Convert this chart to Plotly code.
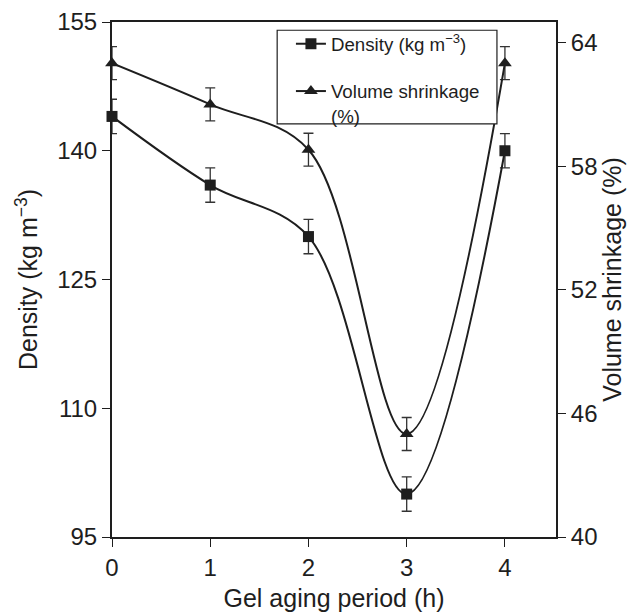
import plotly.graph_objects as go

# Data
aging_h = [0, 1, 2, 3, 4]
density = [144, 136, 130, 100, 140]
density_err = [2, 2, 2, 2, 2]
shrinkage = [63, 61, 58.8, 45, 63]
shrinkage_err = [0.8, 0.8, 0.8, 0.8, 0.8]

left_ticks = [95, 110, 125, 140, 155]
right_ticks = [40, 46, 52, 58, 64]
x_ticks = [0, 1, 2, 3, 4]

INK = "#1e1e1e"
FONT = "Liberation Sans, Arial, sans-serif"

fig = go.Figure()
fig.add_trace(go.Scatter(
    x=aging_h, y=density, name="Density (kg m<sup>−3</sup>)",
    mode="lines+markers", line=dict(color=INK, width=2, shape="spline", smoothing=1),
    marker=dict(symbol="square", size=11, color=INK),
    error_y=dict(type="data", array=density_err, color="#333", thickness=1.3, width=5),
    cliponaxis=False, legendgroup="a", yaxis="y"))
fig.add_trace(go.Scatter(
    x=aging_h, y=shrinkage, name="Volume shrinkage<br>(%)",
    mode="lines+markers", line=dict(color=INK, width=2, shape="spline", smoothing=1),
    marker=dict(symbol="triangle-up", size=12, color=INK),
    error_y=dict(type="data", array=shrinkage_err, color="#333", thickness=1.3, width=5),
    cliponaxis=False, legendgroup="b", yaxis="y2"))

# legend frame (white box with border) in paper coordinates
fig.add_shape(type="rect", xref="paper", yref="paper",
              x0=0.372, x1=0.867, y0=0.802, y1=0.984,
              line=dict(color=INK, width=1.2), fillcolor="white", layer="above")

fig.update_layout(
    width=641, height=613,
    margin=dict(l=112, r=85, t=22, b=76, autoexpand=False),
    paper_bgcolor="white", plot_bgcolor="white",
    font=dict(family=FONT, size=24, color=INK),
    showlegend=True,
    legend=dict(x=0.403, y=0.994, xanchor="left", yanchor="top",
                borderwidth=0, bgcolor="rgba(0,0,0,0)",
                font=dict(size=18.7, family=FONT, color=INK),
                traceorder="grouped", tracegroupgap=20, valign="top"),
    xaxis=dict(range=[0, 4.52], tickvals=x_ticks, ticks="outside", ticklen=8,
               tickwidth=1.3, tickcolor=INK, showline=True, linewidth=2, linecolor=INK,
               mirror=True, showgrid=False, zeroline=False, automargin=False,
               title=dict(text="Gel aging period (h)", font=dict(size=25), standoff=10)),
    yaxis=dict(range=[95, 155], tickvals=left_ticks, ticks="outside", ticklen=8,
               tickwidth=1.3, tickcolor=INK, showline=True, linewidth=2, linecolor=INK,
               showgrid=False, zeroline=False, automargin=False,
               title=dict(text="Density (kg m<sup>−3</sup>)", font=dict(size=25), standoff=12)),
    yaxis2=dict(range=[40, 65], tickvals=right_ticks, ticks="outside", ticklen=8,
                tickwidth=1.3, tickcolor=INK, showline=True, linewidth=2, linecolor=INK,
                overlaying="y", side="right", showgrid=False, zeroline=False,
                automargin=False,
                title=dict(text="Volume shrinkage (%)", font=dict(size=25), standoff=5)),
    yaxis3=dict(range=[40, 65], tickvals=right_ticks, ticks="inside", ticklen=8,
                tickwidth=1.3, tickcolor=INK, showline=False, showticklabels=False,
                overlaying="y", side="right", showgrid=False, zeroline=False,
                automargin=False),
)

fig.write_html("out.html")
